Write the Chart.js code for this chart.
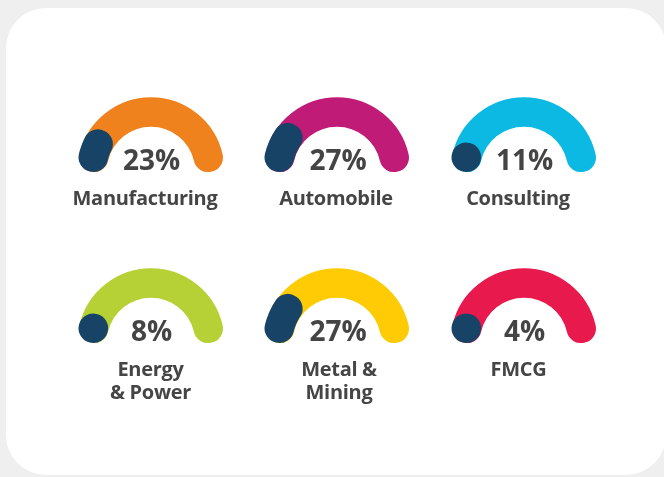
<!DOCTYPE html>
<html lang="en">
<head>
<meta charset="UTF-8">
<title>Industry Share Gauges</title>
<style>
  html, body { margin: 0; padding: 0; }
  body { width: 664px; height: 477px; background: #efefef; position: relative; overflow: hidden; font-family: "Open Sans", Arial, sans-serif; }
  .card { position: absolute; left: 6px; top: 8px; width: 660px; height: 467px; background: #fff; border-radius: 40px; }
  .gauge { position: absolute; width: 160px; height: 100px; }
  .pct { position: absolute; width: 120px; text-align: center; font-weight: 700; font-size: 28px; line-height: 1; color: #444; }
  .label { position: absolute; width: 200px; text-align: center; font-weight: 700; font-size: 20px; letter-spacing: -0.3px; line-height: 23px; color: #454545; white-space: pre-line; }
</style>
<script src="https://cdn.jsdelivr.net/npm/chart.js"></script>
</head>
<body>
<div class="card"></div>
<div id="gauges"></div>
<script>
const categories = ["Manufacturing", "Automobile", "Consulting", "Energy\n& Power", "Metal &\nMining", "FMCG"];
const shares = [23, 27, 11, 8, 27, 4];
const trackColors = ["#f0821e", "#c01b77", "#0cb9e3", "#b6d135", "#ffcb05", "#e81a4d"];
const valueColor = "#174466";

// layout
const colX = [150.5, 337, 523.5];
const rowY = [171, 342];
const labelShift = [-5.5, -1, -5.5, 0, 2, -5];
const W = 160, H = 100;
const R = 59.5;          // outer edge of the thin band, the thick look comes from the round border
const BAND = 1;
const STROKE = 29;
const CAP_START = 13 / 1.8;   // in percent of the half circle
const CAP_END = 14.5 / 1.8;
const clear = "rgba(0,0,0,0)";

const root = document.getElementById("gauges");

categories.forEach((name, i) => {
  const cx = colX[i % 3];
  const cy = rowY[Math.floor(i / 3)];
  const v = shares[i];

  const box = document.createElement("div");
  box.className = "gauge";
  box.style.left = (cx - W / 2) + "px";
  box.style.top = (cy - (H / 2 + R / 2)) + "px";
  const cv = document.createElement("canvas");
  box.appendChild(cv);
  root.appendChild(box);

  const span = Math.max(v - CAP_START - CAP_END, 0.2);
  const rest = 100 - CAP_START - span;

  new Chart(cv, {
    type: "doughnut",
    data: {
      datasets: [
        {
          data: [CAP_START, span, rest],
          backgroundColor: [clear, valueColor, clear],
          borderColor: [clear, valueColor, clear]
        },
        {
          data: [CAP_START, 100 - 2 * CAP_START, CAP_START],
          backgroundColor: [clear, trackColors[i], clear],
          borderColor: [clear, trackColors[i], clear]
        }
      ]
    },
    options: {
      responsive: true,
      maintainAspectRatio: false,
      animation: false,
      events: [],
      rotation: -90,
      circumference: 180,
      radius: R,
      cutout: ((R - BAND) / R * 100) + "%",
      layout: { padding: 0 },
      elements: { arc: { borderWidth: STROKE, borderJoinStyle: "round", borderAlign: "center" } },
      plugins: { legend: { display: false }, tooltip: { enabled: false } }
    }
  });

  const pct = document.createElement("div");
  pct.className = "pct";
  pct.textContent = v + "%";
  pct.style.left = (cx + 1 - 60) + "px";
  pct.style.top = (cy - 1.5 - 25) + "px";
  root.appendChild(pct);

  const lab = document.createElement("div");
  lab.className = "label";
  lab.textContent = name;
  lab.style.left = (cx + labelShift[i] - 100) + "px";
  lab.style.top = (cy + 15.4) + "px";
  root.appendChild(lab);
});
</script>
</body>
</html>
